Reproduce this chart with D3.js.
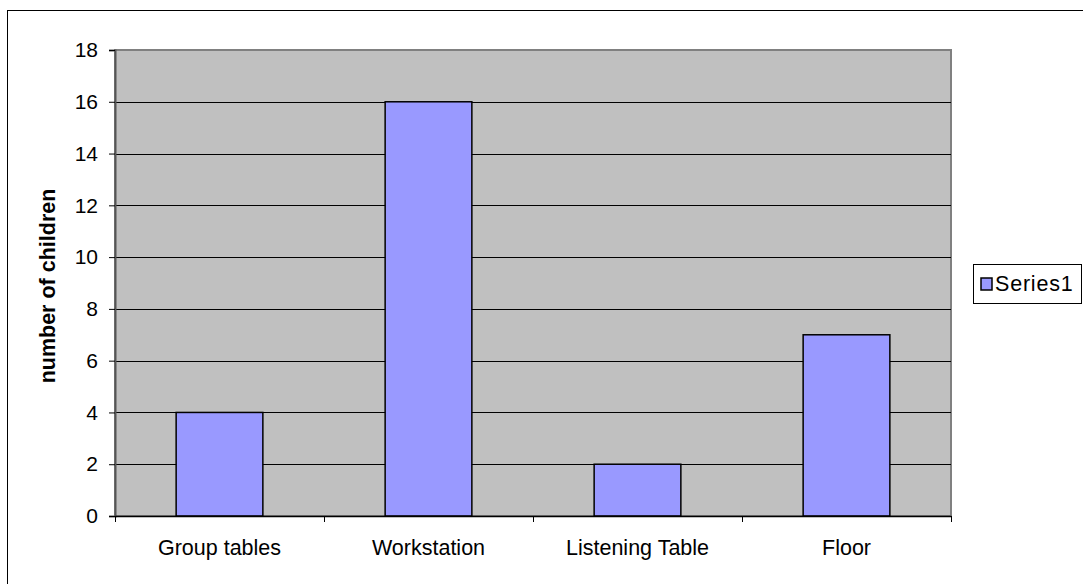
<!DOCTYPE html>
<html>
<head>
<meta charset="utf-8">
<script src="https://cdn.jsdelivr.net/npm/d3@7"></script>
<style>
  html, body { margin: 0; padding: 0; background: #fff; }
  svg { display: block; font-family: "Liberation Sans", Arial, sans-serif; }
</style>
</head>
<body>
<svg id="chart" width="1083" height="584"></svg>
<script>
const categories = ["Group tables", "Workstation", "Listening Table", "Floor"];
const seriesName = "Series1";
const values = [4, 16, 2, 7];
const yTicks = [0, 2, 4, 6, 8, 10, 12, 14, 16, 18];
const yTitle = "number of children";

const svg = d3.select("#chart");
const plot = { left: 115, right: 951, top: 50, bottom: 516 };
const fontSize = 21.5;

// outer chart border (extends past the right / bottom of the picture)
svg.append("rect")
  .attr("x", 7.5).attr("y", 10.5)
  .attr("width", 1200).attr("height", 700)
  .attr("fill", "#fff").attr("stroke", "#000").attr("stroke-width", 1);

const x = d3.scaleBand().domain(categories).range([plot.left, plot.right]).padding(0);
const y = d3.scaleLinear().domain([0, 18]).range([plot.bottom, plot.top]);

// plot area
svg.append("rect")
  .attr("x", plot.left).attr("y", plot.top)
  .attr("width", plot.right - plot.left).attr("height", plot.bottom - plot.top)
  .attr("fill", "#C0C0C0").attr("stroke", "#808080").attr("stroke-width", 2);

// gridlines
svg.append("g").selectAll("line")
  .data(yTicks.filter(d => d > 0 && d < 18))
  .join("line")
  .attr("x1", plot.left).attr("x2", plot.right)
  .attr("y1", d => Math.round(y(d)) + 0.5).attr("y2", d => Math.round(y(d)) + 0.5)
  .attr("stroke", "#000").attr("stroke-width", 1);

// bars
const gapRatio = 2.41;
const barW = x.bandwidth() / gapRatio;
svg.append("g").selectAll("rect")
  .data(values)
  .join("rect")
  .attr("x", (d, i) => x(categories[i]) + (x.bandwidth() - barW) / 2)
  .attr("y", d => y(d))
  .attr("width", barW)
  .attr("height", d => y(0) - y(d))
  .attr("fill", "#9999FF")
  .attr("stroke", "#000").attr("stroke-width", 1.5);

// y axis
const yAxis = d3.axisLeft(y).tickValues(yTicks).tickSize(6).tickPadding(11).tickFormat(d3.format("d"));
const gy = svg.append("g").attr("transform", `translate(${plot.left},0)`).call(yAxis);
gy.select(".domain").attr("stroke", "#555").attr("stroke-width", 2);
gy.selectAll(".tick line").attr("stroke", "#000");
gy.selectAll(".tick text").attr("font-size", 21).attr("fill", "#000")
  .attr("font-family", "Liberation Sans, Arial, sans-serif");

// x axis
const xAxis = d3.axisBottom(x).tickSize(0).tickPadding(24);
const gx = svg.append("g").attr("transform", `translate(0,${plot.bottom})`).call(xAxis);
gx.select(".domain").attr("stroke", "#000").attr("stroke-width", 1.5);
gx.selectAll(".tick text").attr("font-size", fontSize).attr("fill", "#000")
  .attr("font-family", "Liberation Sans, Arial, sans-serif");
// boundary tick marks
const bounds = categories.map(c => x(c)).concat([x(categories[categories.length - 1]) + x.bandwidth()]);
gx.append("g").selectAll("line").data(bounds).join("line")
  .attr("x1", d => Math.round(d) + 0.5).attr("x2", d => Math.round(d) + 0.5)
  .attr("y1", 0).attr("y2", 6).attr("stroke", "#000");

// y title
svg.append("text")
  .attr("transform", `translate(55,${(plot.top + plot.bottom) / 2 + 3}) rotate(-90)`)
  .attr("text-anchor", "middle")
  .attr("font-size", 21.5).attr("font-weight", "bold")
  .text(yTitle);

// legend
const lg = svg.append("g");
lg.append("rect").attr("x", 973.5).attr("y", 264.5).attr("width", 108).attr("height", 39)
  .attr("fill", "#fff").attr("stroke", "#000");
lg.append("rect").attr("x", 981).attr("y", 278).attr("width", 11).attr("height", 12)
  .attr("fill", "#9999FF").attr("stroke", "#000").attr("stroke-width", 1.5);
lg.append("text").attr("x", 995).attr("y", 291).attr("font-size", fontSize)
  .attr("letter-spacing", 0.8).text(seriesName);
</script>
</body>
</html>
